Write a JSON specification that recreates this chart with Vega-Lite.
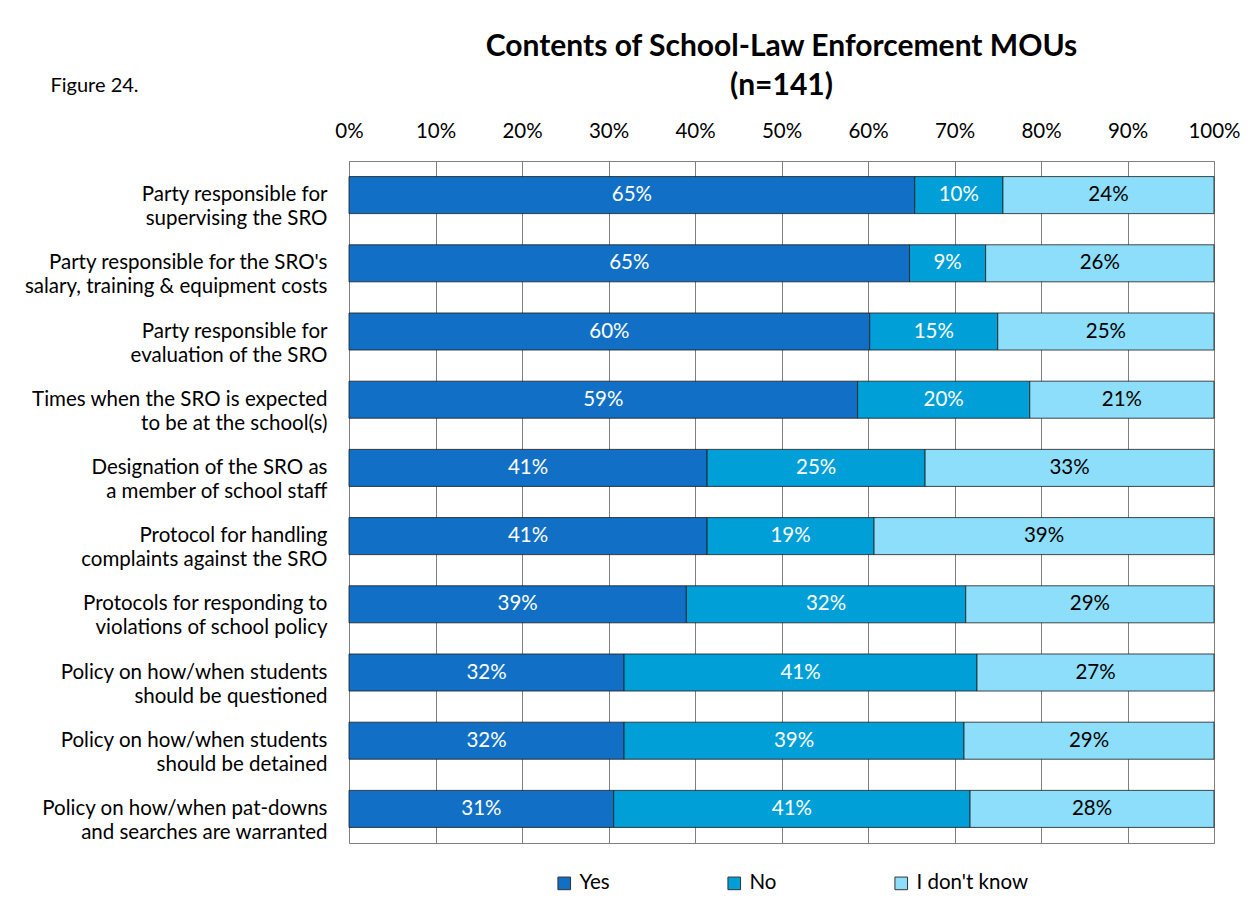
{
  "$schema": "https://vega.github.io/schema/vega-lite/v6.json",
  "autosize": {"type": "none"},
  "padding": {"left": 349, "top": 161, "right": 43, "bottom": 66},
  "width": 865,
  "height": 682,
  "background": "white",
  "title": {
    "text": ["Contents of School-Law Enforcement MOUs", "(n=141)"],
    "font": "Lato",
    "fontSize": 30,
    "fontWeight": "bold",
    "color": "black",
    "lineHeight": 39,
    "anchor": "middle",
    "offset": -26
  },
  "config": {
    "font": "Lato",
    "view": {"stroke": "#7f7f7f", "strokeWidth": 1}
  },
  "data": {
    "values": [
      {"q": "Party responsible for|supervising the SRO", "r": "Yes", "k": 1, "v": 0.654},
      {"q": "Party responsible for|supervising the SRO", "r": "No", "k": 2, "v": 0.102},
      {"q": "Party responsible for|supervising the SRO", "r": "I don't know", "k": 3, "v": 0.244},
      {"q": "Party responsible for the SRO's|salary, training & equipment costs", "r": "Yes", "k": 1, "v": 0.648},
      {"q": "Party responsible for the SRO's|salary, training & equipment costs", "r": "No", "k": 2, "v": 0.088},
      {"q": "Party responsible for the SRO's|salary, training & equipment costs", "r": "I don't know", "k": 3, "v": 0.264},
      {"q": "Party responsible for|evaluation of the SRO", "r": "Yes", "k": 1, "v": 0.602},
      {"q": "Party responsible for|evaluation of the SRO", "r": "No", "k": 2, "v": 0.148},
      {"q": "Party responsible for|evaluation of the SRO", "r": "I don't know", "k": 3, "v": 0.25},
      {"q": "Times when the SRO is expected|to be at the school(s)", "r": "Yes", "k": 1, "v": 0.588},
      {"q": "Times when the SRO is expected|to be at the school(s)", "r": "No", "k": 2, "v": 0.199},
      {"q": "Times when the SRO is expected|to be at the school(s)", "r": "I don't know", "k": 3, "v": 0.213},
      {"q": "Designation of the SRO as|a member of school staff", "r": "Yes", "k": 1, "v": 0.414},
      {"q": "Designation of the SRO as|a member of school staff", "r": "No", "k": 2, "v": 0.252},
      {"q": "Designation of the SRO as|a member of school staff", "r": "I don't know", "k": 3, "v": 0.334},
      {"q": "Protocol for handling|complaints against the SRO", "r": "Yes", "k": 1, "v": 0.414},
      {"q": "Protocol for handling|complaints against the SRO", "r": "No", "k": 2, "v": 0.193},
      {"q": "Protocol for handling|complaints against the SRO", "r": "I don't know", "k": 3, "v": 0.393},
      {"q": "Protocols for responding to|violations of school policy", "r": "Yes", "k": 1, "v": 0.39},
      {"q": "Protocols for responding to|violations of school policy", "r": "No", "k": 2, "v": 0.323},
      {"q": "Protocols for responding to|violations of school policy", "r": "I don't know", "k": 3, "v": 0.287},
      {"q": "Policy on how/when students|should be questioned", "r": "Yes", "k": 1, "v": 0.318},
      {"q": "Policy on how/when students|should be questioned", "r": "No", "k": 2, "v": 0.408},
      {"q": "Policy on how/when students|should be questioned", "r": "I don't know", "k": 3, "v": 0.274},
      {"q": "Policy on how/when students|should be detained", "r": "Yes", "k": 1, "v": 0.318},
      {"q": "Policy on how/when students|should be detained", "r": "No", "k": 2, "v": 0.393},
      {"q": "Policy on how/when students|should be detained", "r": "I don't know", "k": 3, "v": 0.289},
      {"q": "Policy on how/when pat-downs|and searches are warranted", "r": "Yes", "k": 1, "v": 0.306},
      {"q": "Policy on how/when pat-downs|and searches are warranted", "r": "No", "k": 2, "v": 0.412},
      {"q": "Policy on how/when pat-downs|and searches are warranted", "r": "I don't know", "k": 3, "v": 0.282}
    ]
  },
  "transform": [
    {"stack": "v", "groupby": ["q"], "sort": [{"field": "k", "order": "ascending"}], "as": ["v0", "v1"]},
    {"calculate": "(datum.v0 + datum.v1) / 2", "as": "mid"}
  ],
  "encoding": {
    "y": {
      "field": "q",
      "type": "nominal",
      "sort": null,
      "scale": {"paddingInner": 0.457, "paddingOuter": 0.2285},
      "axis": {
        "title": "Figure 24.",
        "titleAngle": 0,
        "titleAlign": "left",
        "titleBaseline": "middle",
        "titleX": -299,
        "titleY": -76,
        "titleFontSize": 20,
        "titleFontWeight": "normal",
        "titleColor": "black",
        "labelExpr": "split(datum.label, '|')",
        "labelFontSize": 20.5,
        "labelLineHeight": 24,
        "labelColor": "black",
        "labelPadding": 22,
        "labelLimit": 400,
        "ticks": false,
        "domain": false,
        "grid": false
      }
    }
  },
  "layer": [
    {
      "mark": {"type": "bar", "stroke": "#1a1a1a", "strokeWidth": 0.8},
      "encoding": {
        "x": {
          "field": "v0",
          "type": "quantitative",
          "scale": {"domain": [0, 1], "nice": false},
          "axis": {
            "orient": "top",
            "format": ".0%",
            "values": [0, 0.1, 0.2, 0.3, 0.4, 0.5, 0.6, 0.7, 0.8, 0.9, 1],
            "labelFontSize": 20.5,
            "labelColor": "black",
            "labelPadding": 20,
            "labelFlush": false,
            "ticks": false,
            "domain": false,
            "grid": true,
            "gridColor": "#7f7f7f",
            "gridWidth": 1,
            "gridOpacity": 1,
            "title": null
          }
        },
        "x2": {"field": "v1"},
        "color": {
          "field": "r",
          "type": "nominal",
          "scale": {"domain": ["Yes", "No", "I don't know"], "range": ["#1170C6", "#009FD8", "#8DDEFA"]},
          "legend": {
            "title": null,
            "orient": "none",
            "direction": "horizontal",
            "legendX": 205,
            "legendY": 712,
            "columnPadding": 114,
            "symbolType": "square",
            "symbolSize": 160,
            "symbolStrokeColor": "#333333",
            "symbolStrokeWidth": 1,
            "symbolOpacity": 1,
            "labelFontSize": 20.5,
            "labelColor": "black",
            "labelOffset": 5,
            "padding": 0
          }
        }
      }
    },
    {
      "mark": {"type": "text", "fontSize": 20.5, "align": "center", "baseline": "middle"},
      "encoding": {
        "x": {"field": "mid", "type": "quantitative"},
        "text": {"field": "v", "type": "quantitative", "format": ".0%"},
        "color": {
          "condition": {"test": "datum.k == 3", "value": "black"},
          "value": "white"
        }
      }
    }
  ]
}
